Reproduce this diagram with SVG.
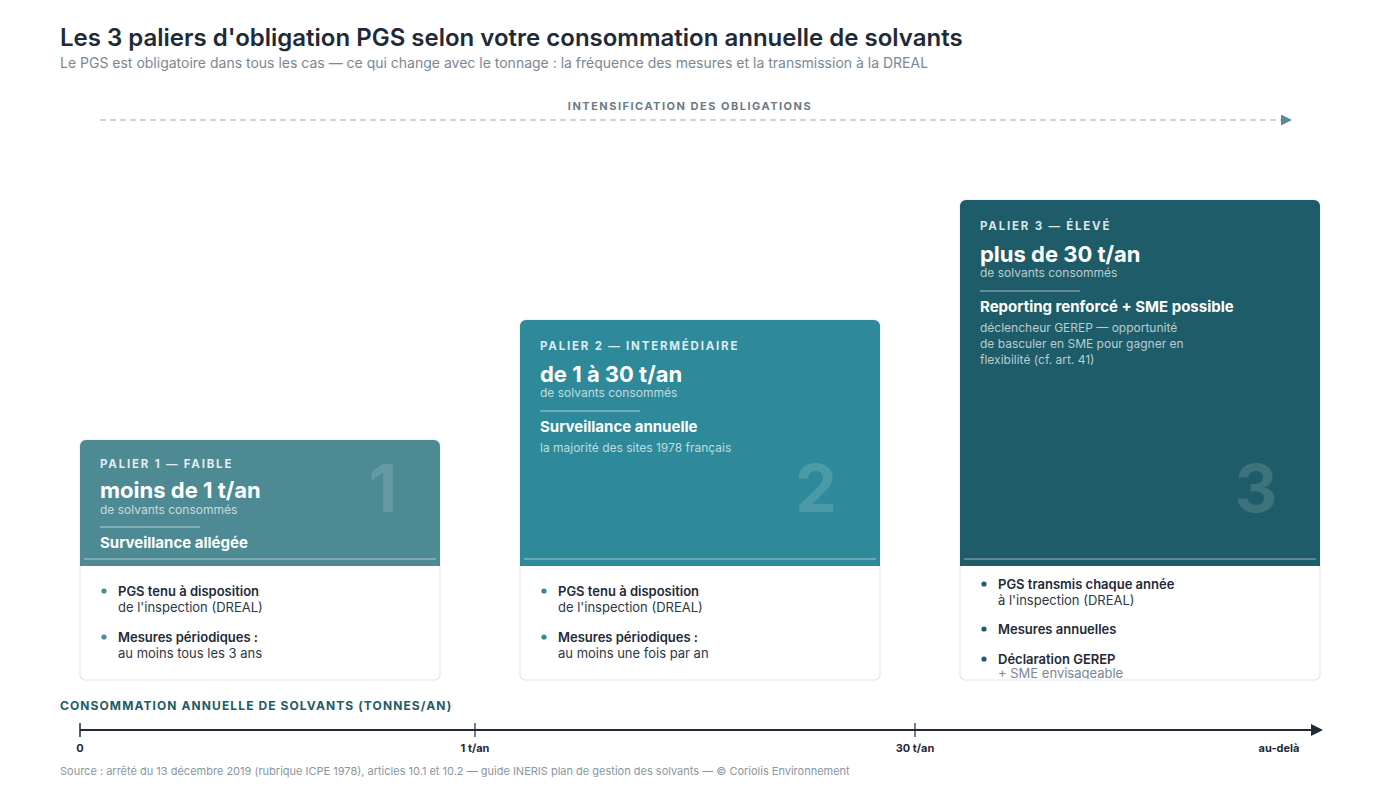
<svg xmlns="http://www.w3.org/2000/svg" width="1400" height="788" viewBox="0 0 1400 788">
<defs>
<style>
text{font-family:Inter,"Liberation Sans",Arial,sans-serif}
.title{font-size:24px;font-weight:600;fill:#1e2a38}
.sub{font-size:14px;fill:#7a8794}
.intens{font-size:11px;font-weight:700;fill:#6b7a88;letter-spacing:1.5px}
.palier{font-size:11.5px;font-weight:700;fill:#ffffff;fill-opacity:.85;letter-spacing:1.8px}
.range{font-size:22px;font-weight:700;fill:#ffffff}
.cons{font-size:12px;fill:#ffffff;fill-opacity:.7}
.surv{font-size:15px;font-weight:700;fill:#ffffff}
.desc{font-size:12px;fill:#ffffff;fill-opacity:.7}
.big{font-size:66px;font-weight:700;fill:#ffffff;fill-opacity:.14}
.b1{font-size:13px;font-weight:600;fill:#1e2a38}
.b2{font-size:13px;fill:#2c3846}
.b3{font-size:13px;fill:#7a8794}
.axl{font-size:12px;font-weight:700;fill:#1d5c68;letter-spacing:1.1px}
.tick{font-size:11px;font-weight:700;fill:#1e2a38}
.src{font-size:11px;fill:#8a96a0}
.body{fill:#ffffff;stroke:#e3e7ea;stroke-width:1.2}
.sep{stroke:#ffffff;stroke-opacity:.55;stroke-width:1}
.short{stroke:#ffffff;stroke-opacity:.3;stroke-width:2}
</style>
<marker id="arrDash" viewBox="0 0 10 10" refX="0" refY="5" markerWidth="14" markerHeight="11" markerUnits="userSpaceOnUse" orient="auto"><path d="M0,0 L10,5 L0,10 Z" fill="#5a8a98"/></marker>
<marker id="arrAxis" viewBox="0 0 10 10" refX="0" refY="5" markerWidth="14" markerHeight="12" markerUnits="userSpaceOnUse" orient="auto"><path d="M0,0 L10,5 L0,10 Z" fill="#1e2a38"/></marker>
<clipPath id="c3"><rect x="960" y="200" width="360" height="479" rx="6"/></clipPath>
</defs>
<rect width="1400" height="788" fill="#ffffff"/>
<text class="title" x="60" y="46">Les 3 paliers d'obligation PGS selon votre consommation annuelle de solvants</text>
<text class="sub" x="60" y="68">Le PGS est obligatoire dans tous les cas — ce qui change avec le tonnage : la fréquence des mesures et la transmission à la DREAL</text>
<text class="intens" x="690" y="110" text-anchor="middle">INTENSIFICATION DES OBLIGATIONS</text>
<g id="connectors">
<line x1="100" y1="120" x2="1281" y2="120" stroke="#b8c8c8" stroke-width="1.5" stroke-dasharray="6 4" marker-end="url(#arrDash)"/>
<line x1="80" y1="730" x2="1311" y2="730" stroke="#1e2a38" stroke-width="2" marker-end="url(#arrAxis)"/>
<line x1="80" y1="723" x2="80" y2="737" stroke="#1e2a38" stroke-width="1.5"/>
<line x1="475" y1="723" x2="475" y2="737" stroke="#1e2a38" stroke-width="1.2"/>
<line x1="915" y1="723" x2="915" y2="737" stroke="#1e2a38" stroke-width="1.2"/>
</g>
<g id="palier1">
<rect class="body" x="80" y="440" width="360" height="240" rx="6"/>
<path d="M80,446 a6,6 0 0 1 6,-6 h348 a6,6 0 0 1 6,6 v120 h-360 z" fill="#4d8a94"/>
<line class="sep" x1="84" y1="559" x2="436" y2="559"/>
<text class="big" x="383" y="512" text-anchor="middle">1</text>
<text class="palier" x="100" y="468">PALIER 1 — FAIBLE</text>
<text class="range" x="100" y="498">moins de 1 t/an</text>
<text class="cons" x="100" y="514">de solvants consommés</text>
<line class="short" x1="100" y1="527" x2="200" y2="527"/>
<text class="surv" x="100" y="548">Surveillance allégée</text>
<circle cx="104" cy="591" r="2.6" fill="#4d8a94"/>
<text class="b1" x="118" y="596">PGS tenu à disposition</text>
<text class="b2" x="118" y="612">de l'inspection (DREAL)</text>
<circle cx="104" cy="637" r="2.6" fill="#4d8a94"/>
<text class="b1" x="118" y="642">Mesures périodiques :</text>
<text class="b2" x="118" y="658">au moins tous les 3 ans</text>
</g>
<g id="palier2">
<rect class="body" x="520" y="320" width="360" height="360" rx="6"/>
<path d="M520,326 a6,6 0 0 1 6,-6 h348 a6,6 0 0 1 6,6 v240 h-360 z" fill="#2e8a9a"/>
<line class="sep" x1="524" y1="559" x2="876" y2="559"/>
<text class="big" x="816" y="512" text-anchor="middle">2</text>
<text class="palier" x="540" y="350">PALIER 2 — INTERMÉDIAIRE</text>
<text class="range" x="540" y="382">de 1 à 30 t/an</text>
<text class="cons" x="540" y="397">de solvants consommés</text>
<line class="short" x1="540" y1="411" x2="640" y2="411"/>
<text class="surv" x="540" y="432">Surveillance annuelle</text>
<text class="desc" x="540" y="452">la majorité des sites 1978 français</text>
<circle cx="544" cy="591" r="2.6" fill="#2e8a9a"/>
<text class="b1" x="558" y="596">PGS tenu à disposition</text>
<text class="b2" x="558" y="612">de l'inspection (DREAL)</text>
<circle cx="544" cy="637" r="2.6" fill="#2e8a9a"/>
<text class="b1" x="558" y="642">Mesures périodiques :</text>
<text class="b2" x="558" y="658">au moins une fois par an</text>
</g>
<g id="palier3">
<rect class="body" x="960" y="200" width="360" height="480" rx="6"/>
<path d="M960,206 a6,6 0 0 1 6,-6 h348 a6,6 0 0 1 6,6 v360 h-360 z" fill="#1d5c68"/>
<line class="sep" x1="964" y1="559" x2="1316" y2="559"/>
<text class="big" x="1256" y="512" text-anchor="middle">3</text>
<text class="palier" x="980" y="230">PALIER 3 — ÉLEVÉ</text>
<text class="range" x="980" y="262">plus de 30 t/an</text>
<text class="cons" x="980" y="277">de solvants consommés</text>
<line class="short" x1="980" y1="291" x2="1080" y2="291"/>
<text class="surv" x="980" y="312">Reporting renforcé + SME possible</text>
<text class="desc" x="980" y="332">déclencheur GEREP — opportunité</text>
<text class="desc" x="980" y="348">de basculer en SME pour gagner en</text>
<text class="desc" x="980" y="364">flexibilité (cf. art. 41)</text>
<circle cx="984" cy="584" r="2.6" fill="#1d5c68"/>
<text class="b1" x="998" y="589">PGS transmis chaque année</text>
<text class="b2" x="998" y="605">à l'inspection (DREAL)</text>
<circle cx="984" cy="629" r="2.6" fill="#1d5c68"/>
<text class="b1" x="998" y="634">Mesures annuelles</text>
<circle cx="984" cy="659" r="2.6" fill="#1d5c68"/>
<text class="b1" x="998" y="664">Déclaration GEREP</text>
<text class="b3" x="998" y="678" clip-path="url(#c3)">+ SME envisageable</text>
</g>
<g id="axis">
<text class="axl" x="60" y="710">CONSOMMATION ANNUELLE DE SOLVANTS (TONNES/AN)</text>
<text class="tick" x="80" y="752" text-anchor="middle">0</text>
<text class="tick" x="475" y="752" text-anchor="middle">1 t/an</text>
<text class="tick" x="915" y="752" text-anchor="middle">30 t/an</text>
<text class="tick" x="1279" y="752" text-anchor="middle">au-delà</text>
</g>
<text class="src" x="60" y="775">Source : arrêté du 13 décembre 2019 (rubrique ICPE 1978), articles 10.1 et 10.2 — guide INERIS plan de gestion des solvants — © Coriolis Environnement</text>
</svg>
